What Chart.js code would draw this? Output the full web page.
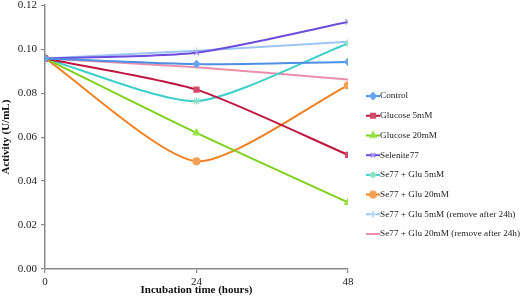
<!DOCTYPE html>
<html><head><meta charset="utf-8">
<script src="https://cdn.jsdelivr.net/npm/chart.js@4/dist/chart.umd.min.js"></script>
<style>html,body{margin:0;padding:0;background:#fff}#wrap{width:522px;height:297px}</style>
</head><body><div id="wrap"><canvas id="c" width="522" height="297"></canvas></div>
<script>
// ---- data ----
const hours = [0, 24, 48];
const seriesNames = ["Control", "Glucose 5mM", "Glucose 20mM", "Selenite77", "Se77 + Glu 5mM", "Se77 + Glu 20mM", "Se77 + Glu 5mM (remove after 24h)", "Se77 + Glu 20mM (remove after 24h)"];
const control      = [0.0958, 0.0932, 0.0942];
const glucose5     = [0.0958, 0.0816, 0.0519];
const glucose20    = [0.0958, 0.0619, 0.0303];
const selenite77   = [0.0958, 0.0984, 0.1124];
const se77glu5     = [0.0958, 0.0764, 0.1026];
const se77glu20    = [0.0958, 0.0490, 0.0835];
const se77glu5rem  = [0.0958, 0.0993, 0.1034];
const se77glu20rem = [0.0958, 0.0918, 0.0862];
const yTickValues  = [0, 0.02, 0.04, 0.06, 0.08, 0.10, 0.12];
const xTickValues  = [0, 24, 48];

// ---- styles ----
const seriesValues = [control, glucose5, glucose20, selenite77, se77glu5, se77glu20, se77glu5rem, se77glu20rem];
const lineColors  = ["#4E8FE4", "#BE163E", "#7FD21C", "#6C4CDE", "#3FCFCB", "#F08022", "#9DC4F2", "#E98FAB"];
const markColors  = ["#6AA6EE", "#D2496A", "#9BE04A", "#A594F0", "#8EE2C6", "#F4A052", "#B8D6F6", "#E98FAB"];
const markStyles  = ["rectRot", "rect", "triangle", "crossRot", "star", "circle", "cross", false];
const markRadius  = [3.5, 3.5, 3.8, 3.8, 3.8, 3.5, 3.5, 0];

function legendImage(i){
  const cv = document.createElement('canvas');
  cv.width = 14; cv.height = 10;
  const g = cv.getContext('2d');
  g.strokeStyle = lineColors[i]; g.lineWidth = 2;
  g.beginPath(); g.moveTo(0,5); g.lineTo(14,5); g.stroke();
  if (markStyles[i]) {
    g.fillStyle = markColors[i]; g.strokeStyle = markColors[i];
    Chart.helpers.drawPoint(g, {pointStyle: markStyles[i], radius: 3, rotation: 0, borderWidth: 1.2}, 7, 5);
  }
  return cv;
}
const legendImgs = seriesNames.map((n,i)=>legendImage(i));

const datasets = seriesNames.map((name, i) => ({
  label: name,
  data: hours.map((h, k) => ({x: h, y: seriesValues[i][k]})),
  borderColor: lineColors[i],
  backgroundColor: markColors[i],
  pointBackgroundColor: markColors[i],
  pointBorderColor: markColors[i],
  pointStyle: markStyles[i],
  pointRadius: markRadius[i],
  pointBorderWidth: 1.2,
  borderWidth: 2,
  tension: 0.22,
  fill: false
}));

const FONT = "'Liberation Serif', 'Times New Roman', serif";
const legendTweak = {
  id: 'legendTweak',
  beforeUpdate(chart){
    const l = chart.legend;
    if (l && !l._wrapped) {
      const fit = l.fit;
      l.fit = function(){ fit.call(this); this.width = 174; };
      l._wrapped = true;
    }
  },
  afterLayout(chart){
    const l = chart.legend;
    const dx = 12, dy = 16.5;
    l.left += dx; l.right += dx; l.top += dy; l.bottom += dy;
  }
};

new Chart(document.getElementById('c'), {
  type: 'line',
  data: { datasets },
  plugins: [legendTweak],
  options: {
    responsive: false,
    animation: false,
    devicePixelRatio: 1,
    layout: { padding: 0 },
    plugins: {
      tooltip: { enabled: false },
      legend: {
        position: 'right',
        align: 'center',
        labels: {
          usePointStyle: true,
          pointStyleWidth: 5,
          padding: 10.5,
          color: '#222',
          font: { family: FONT, size: 9.2 },
          generateLabels(chart){
            return chart.data.datasets.map((ds, i) => ({
              text: ds.label, pointStyle: legendImgs[i], fillStyle: ds.borderColor,
              strokeStyle: ds.borderColor, lineWidth: 0, hidden: false, datasetIndex: i, fontColor: '#222'
            }));
          }
        }
      }
    },
    scales: {
      x: {
        type: 'linear', min: 0, max: 48,
        afterBuildTicks(s){ s.ticks = xTickValues.map(v => ({value: v})); },
        afterFit(s){ s.height = 28; },
        grid: { drawOnChartArea: false, drawTicks: true, tickLength: 4, color: '#8a8a8a', lineWidth: 1.2 },
        border: { display: true, color: '#8a8a8a', width: 1.5 },
        ticks: { color: '#222', font: { family: FONT, size: 11 }, padding: 3, maxRotation: 0 },
        title: { display: true, text: 'Incubation time (hours)', color: '#111', font: { family: FONT, size: 11, weight: 'bold' }, padding: 0 }
      },
      y: {
        min: 0, max: 0.12,
        afterBuildTicks(s){ s.ticks = yTickValues.map(v => ({value: v})); },
        afterFit(s){ s.width = 45; s.paddingTop = 5; },
        grid: { drawOnChartArea: false, drawTicks: true, tickLength: 4, color: '#8a8a8a', lineWidth: 1.2 },
        border: { display: true, color: '#8a8a8a', width: 1.5 },
        ticks: { color: '#222', font: { family: FONT, size: 11 }, padding: 4, callback: v => v.toFixed(2) },
        title: { display: true, text: 'Activity (U/mL)', color: '#111', font: { family: FONT, size: 11, weight: 'bold' }, padding: 0 }
      }
    }
  }
});
</script>
</body></html>
